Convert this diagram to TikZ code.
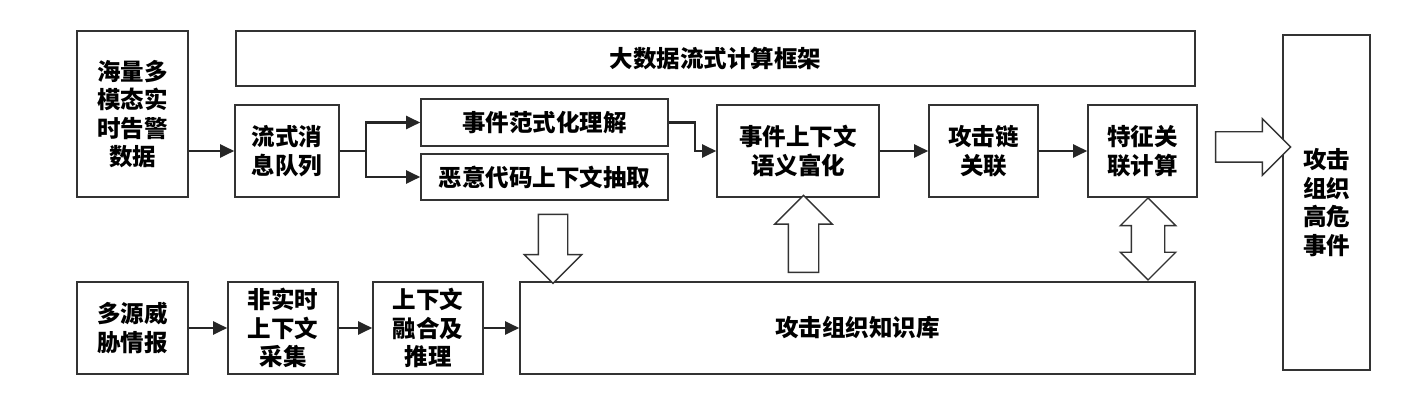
\documentclass[tikz,border=0pt]{standalone}
\usepackage{fontspec}
\setmainfont{Noto Sans CJK SC}
\usepackage{tikz}
\usetikzlibrary{arrows.meta,shapes.arrows}

\begin{document}
\begin{tikzpicture}[x=1pt, y=-1pt, font=\fontsize{23.5}{28.5}\selectfont\bfseries]
\useasboundingbox (0,0) rectangle (1428,403);
\begin{scope}[every node/.style={rectangle,draw=black!80,line width=1.6pt,align=center,inner sep=0pt}]
    \node[minimum width=111, minimum height=166] (data) at (132.5,114) {海量多\\模态实\\时告警\\数据};
    \node[minimum width=959, minimum height=55] (frame) at (715.5,58.5) {大数据流式计算框架};
    \node[minimum width=104, minimum height=92] (queue) at (287,151) {流式消\\息队列};
    \node[minimum width=247, minimum height=47] (norm) at (544.5,122.5) {事件范式化理解};
    \node[minimum width=247, minimum height=46] (malware) at (544.5,177) {恶意代码上下文抽取};
    \node[minimum width=162, minimum height=92] (enrich) at (798,151) {事件上下文\\语义富化};
    \node[minimum width=109, minimum height=92] (chain) at (983.5,151) {攻击链\\关联};
    \node[minimum width=109, minimum height=92] (feature) at (1142.5,151) {特征关\\联计算};
    \node[minimum width=87, minimum height=335] (result) at (1326.5,202.5) {攻击\\组织\\高危\\事件};
    \node[minimum width=111, minimum height=92] (intel) at (132.5,328) {多源威\\胁情报};
    \node[minimum width=110, minimum height=92] (collect) at (283,328) {非实时\\上下文\\采集};
    \node[minimum width=110, minimum height=92] (fuse) at (428,328) {上下文\\融合及\\推理};
    \node[minimum width=675, minimum height=92] (kb) at (857.5,328) {攻击组织知识库};
\end{scope}
\begin{scope}[every node/.style={draw=black!80,fill=white,line width=1.4pt,inner xsep=0pt,single arrow head indent=0pt}]
    \node[single arrow, inner ysep=14.5pt, minimum height=75, single arrow head extend=13] (toresult) at (1245.5,147) {};
    \node[single arrow, rotate=-90, inner ysep=14pt, minimum height=69, single arrow head extend=14] (tokb) at (553,241.5) {};
    \node[single arrow, rotate=90, inner ysep=14.5pt, minimum height=77, single arrow head extend=13.5] (fromkb) at (803.5,241.5) {};
    \node[double arrow, rotate=90, inner ysep=16pt, minimum height=82, double arrow head extend=11] (swap) at (1148,239) {};
\end{scope}
\begin{scope}[>={Triangle[length=14pt,width=13pt]}, line width=2.2pt, black!85]
    \draw[->] (queue.west -| data.east) -- (queue.west);
    \draw[->] (queue.east) -- ++(26,0) |- (norm.west);
    \draw[->] (queue.east) -- ++(26,0) |- (malware.west);
    \draw[->] (norm.east) -- ++(26,0) |- (enrich.west);
    \draw[->] (enrich) -- (chain);
    \draw[->] (chain) -- (feature);
    \draw[->] (intel) -- (collect);
    \draw[->] (collect) -- (fuse);
    \draw[->] (fuse) -- (kb);
\end{scope}
\end{tikzpicture}
\end{document}
